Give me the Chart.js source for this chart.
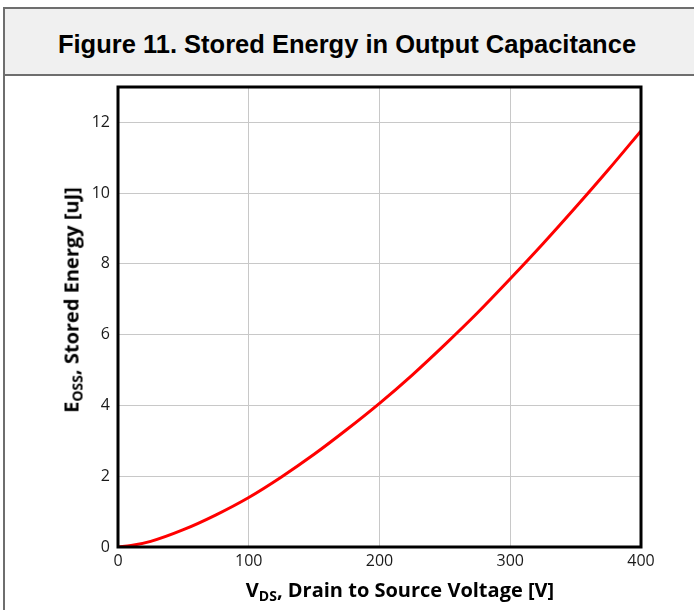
<!DOCTYPE html>
<html>
<head>
<meta charset="utf-8">
<script src="https://cdn.jsdelivr.net/npm/chart.js@4"></script>
<style>
    html, body { margin: 0; padding: 0; background: #fff; }
    #page { position: relative; width: 694px; height: 610px; overflow: hidden; }
    #frame { position: absolute; left: 3px; top: 7px; width: 700px; height: 620px; border: 2px solid #6e6e6e; box-sizing: border-box; }
    #titleBox { position: absolute; left: 3px; top: 7px; width: 700px; height: 69px; background: #f0f0f0; border: 2px solid #6e6e6e; box-sizing: border-box; }
    #title { position: absolute; left: 0; top: 44px; width: 694px; text-align: center; transform: translateY(-50%);
             font: bold 25.5px "Liberation Sans", Arial, sans-serif; color: #000; }
    #chartWrap { position: absolute; left: 0; top: 0; width: 694px; height: 610px; }
    .axisTitle { position: absolute; font: bold 20px "Open Sans", sans-serif; color: #000; white-space: nowrap; }
    .axisTitle sub { font-size: 14px; vertical-align: -4px; }
    #xTitle { left: 400px; top: 590px; transform: translate(-50%, -50%); }
    #yTitle { left: 72px; top: 300px; transform: translate(-50%, -50%) rotate(-90deg); }
</style>
</head>
<body>
<div id="page">
    <div id="frame"></div>
    <div id="titleBox"></div>
    <div id="title">Figure 11. Stored Energy in Output Capacitance</div>
    <div id="chartWrap"><canvas id="eossChart" width="694" height="610"></canvas></div>
    <div class="axisTitle" id="xTitle">V<sub>DS</sub>, Drain to Source Voltage [V]</div>
    <div class="axisTitle" id="yTitle">E<sub>OSS</sub>, Stored Energy [uJ]</div>
</div>
<script>
// Values
const vdsVolts = [0, 10, 25, 50, 75, 100, 125, 150, 175, 200, 225, 250, 275, 300, 325, 350, 375, 400];
const eossMicroJ = [0, 0.04, 0.16, 0.49, 0.91, 1.40, 1.98, 2.62, 3.32, 4.06, 4.86, 5.72, 6.62, 7.58, 8.57, 9.60, 10.66, 11.76];
const xTickValues = [0, 100, 200, 300, 400];
const yTickValues = [0, 2, 4, 6, 8, 10, 12];

// Thick black box round the plot area
const plotFrame = {
    id: 'plotFrame',
    afterDatasetsDraw(chart) {
        const a = chart.chartArea;
        const ctx = chart.ctx;
        ctx.save();
        ctx.strokeStyle = '#000';
        ctx.lineWidth = 3;
        ctx.strokeRect(a.left, a.top, a.right - a.left, a.bottom - a.top);
        ctx.restore();
    }
};

const ctx = document.getElementById('eossChart');
new Chart(ctx, {
    type: 'line',
    data: {
        datasets: [{
            label: 'Eoss',
            data: vdsVolts.map((v, i) => ({ x: v, y: eossMicroJ[i] })),
            borderColor: '#ff0000',
            borderWidth: 3,
            pointRadius: 0,
            fill: false,
            cubicInterpolationMode: 'monotone'
        }]
    },
    options: {
        responsive: false,
        animation: false,
        layout: { padding: { top: 87, right: 53, left: 0, bottom: 0 } },
        plugins: {
            legend: { display: false },
            tooltip: { enabled: false }
        },
        scales: {
            x: {
                type: 'linear',
                min: 0,
                max: 400,
                afterBuildTicks: s => { s.ticks = xTickValues.map(v => ({ value: v })); },
                afterFit: s => { s.height = 63; },
                grid: { color: '#c8c8c8', lineWidth: 1, drawTicks: false },
                border: { display: false },
                ticks: { padding: 5, color: '#1a1a1a', font: { family: 'Open Sans', size: 16 }, maxRotation: 0 }
            },
            y: {
                min: 0,
                max: 13,
                afterBuildTicks: s => { s.ticks = yTickValues.map(v => ({ value: v })); },
                afterFit: s => { s.width = 118; },
                grid: { color: '#c8c8c8', lineWidth: 1, drawTicks: false },
                border: { display: false },
                ticks: { padding: 8, color: '#1a1a1a', font: { family: 'Open Sans', size: 16 } }
            }
        }
    },
    plugins: [plotFrame]
});
</script>
</body>
</html>
